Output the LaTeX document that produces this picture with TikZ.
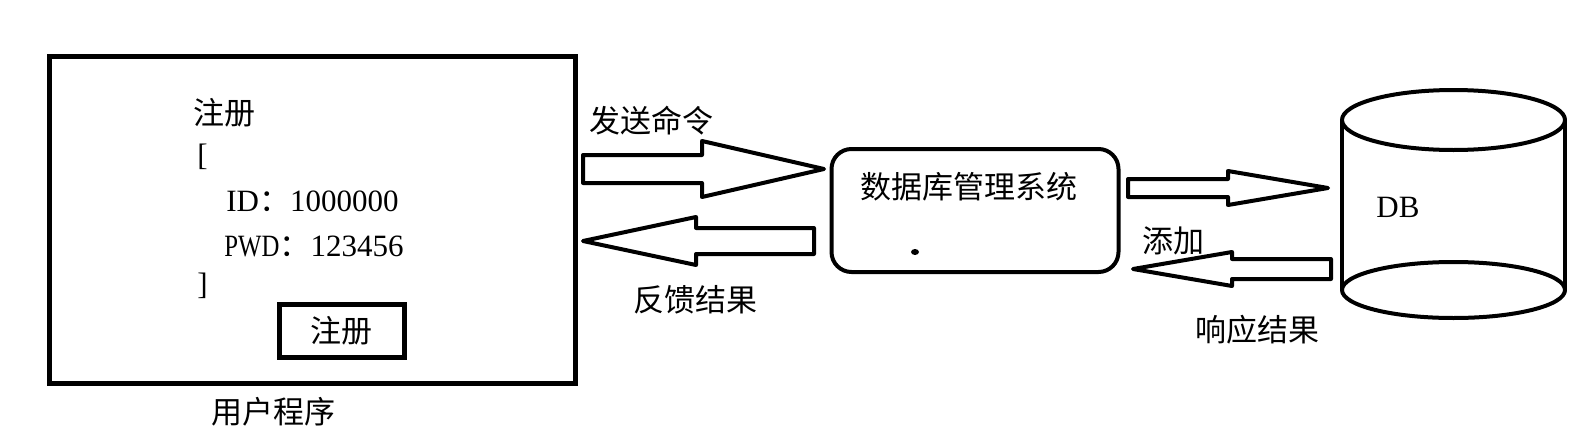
\documentclass[tikz,border=0pt]{standalone}
\usepackage{fontspec}
\setmainfont{Liberation Serif}
\newfontfamily\cjk{Noto Sans CJK SC}
\newcommand\txtsize{\fontsize{15.5}{18}\selectfont}
\tikzset{
  pen/.style={line width=2pt, line join=round},
  boxframe/.style={draw, line width=2.5pt, inner sep=0pt},
  bigarrow/.style={pen, fill=white},
  cjktext/.style={inner sep=0pt, font=\txtsize\cjk},
  latintext/.style={inner sep=0pt, font=\txtsize},
}
% tail x, head base x, tip x, y, shaft half width, head half width
\newcommand\blockarrow[6]{%
  \draw[bigarrow] (#1,{#4-#5}) -- (#2,{#4-#5}) -- (#2,{#4-#6}) -- (#3,#4)
    -- (#2,{#4+#6}) -- (#2,{#4+#5}) -- (#1,{#4+#5}) -- cycle;}
\begin{document}
\begin{tikzpicture}[x=0.5pt, y=-0.5pt]
    \useasboundingbox (0,0) rectangle (1590,439);

    % user program
    \node (app) [boxframe, minimum width=263pt, minimum height=163.5pt] at (312,219.5) {};
    \node (apptitle) [cjktext, anchor=west] at (193,113) {注册};
    \node (lbrack) [latintext, anchor=west] at (197,157) {[};
    \node (idline) [latintext, anchor=west] at (226,201) {ID{\cjk ：}1000000};
    \node (pwdline) [latintext, anchor=west] at (224,246) {\scalebox{0.8}[1]{PWD}{\cjk ：}123456};
    \node (rbrack) [latintext, anchor=west] at (197,286) {]};
    \node (btn) [boxframe, cjktext, minimum width=62.5pt, minimum height=26.5pt] at (341.5,330.5) {注册};
    \node (appname) [cjktext] at (273,412) {用户程序};

    % dbms
    \node (dbms) [draw, pen, rounded corners=10pt, minimum width=143.5pt, minimum height=61.5pt] at (975,210.5) {};
    \node (dbmsname) [cjktext] at (969,187) {数据库管理系统};
    \fill (915,252) ellipse [x radius=2pt, y radius=1.5pt];

    % database cylinder
    \draw[pen] (1342,120) -- (1342,290) (1565,120) -- (1565,290);
    \draw[pen] (1453.5,120) ellipse [x radius=55.75pt, y radius=15pt];
    \draw[pen] (1453.5,290) ellipse [x radius=55.75pt, y radius=14pt];
    \node (dblabel) [latintext] at (1398,207) {DB};

    % arrows
    \blockarrow{583}{702}{824}{169}{14}{28}
    \node (send) [cjktext] at (651,121) {发送命令};
    \blockarrow{814}{696}{583}{241}{13}{24}
    \node (feedback) [cjktext] at (695,300) {反馈结果};
    \blockarrow{1128}{1228}{1328}{188}{9}{17}
    \node (add) [cjktext] at (1173,241) {添加};
    \blockarrow{1331}{1232}{1133}{269}{10}{17}
    \node (reply) [cjktext] at (1257,330) {响应结果};
\end{tikzpicture}
\end{document}
